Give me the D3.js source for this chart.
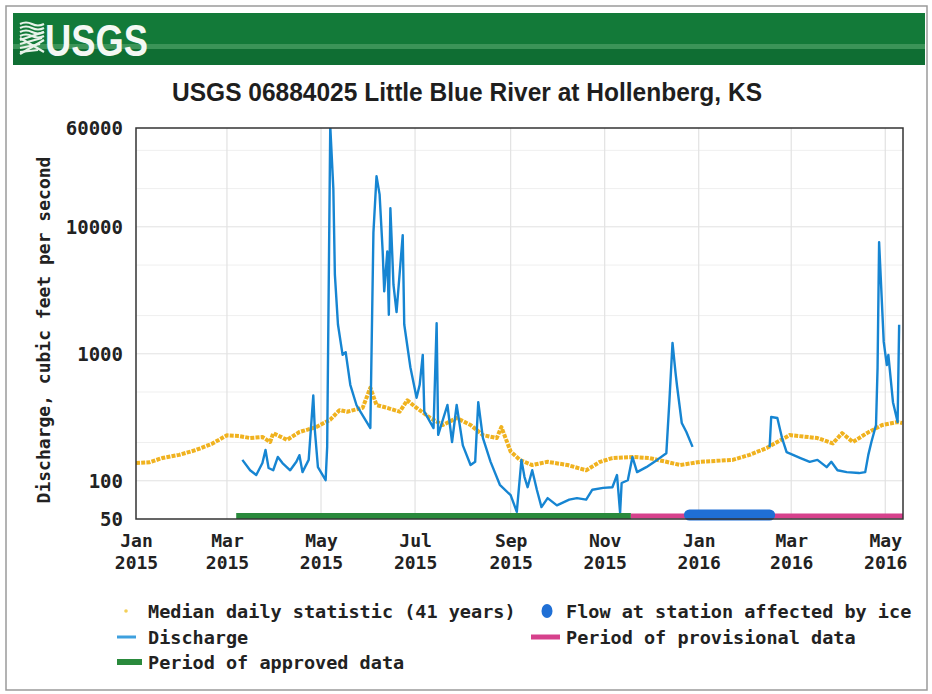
<!DOCTYPE html>
<html><head><meta charset="utf-8">
<script src="https://cdn.jsdelivr.net/npm/d3@7"></script>
<style>
html,body{margin:0;padding:0;background:#fff;}
svg{display:block;}
.mono{font-family:"DejaVu Sans Mono","Liberation Mono",monospace;font-weight:bold;fill:#222;}
</style></head>
<body>
<svg id="chart" width="932" height="694"></svg>
<script>
// ---------------- DATA ----------------
const titleText = "USGS 06884025 Little Blue River at Hollenberg, KS";
const yAxisLabel = "Discharge, cubic feet per second";

const yTickValues = [50, 100, 1000, 10000, 60000];
const xTickDates  = ["2015-01-01","2015-03-01","2015-05-01","2015-07-01","2015-09-01","2015-11-01","2016-01-01","2016-03-01","2016-05-01"];
const xTickMonths = ["Jan","Mar","May","Jul","Sep","Nov","Jan","Mar","May"];
const xTickYears  = ["2015","2015","2015","2015","2015","2015","2016","2016","2016"];
const xDomain = ["2015-01-01","2016-05-12"];

// Discharge (cfs), daily values (gap = ice affected)
const dischargeDates = [
 "2015-03-11","2015-03-16","2015-03-20","2015-03-24","2015-03-26","2015-03-28","2015-03-31","2015-04-03","2015-04-06","2015-04-11",
 "2015-04-15","2015-04-17","2015-04-19","2015-04-23","2015-04-26","2015-04-27","2015-04-29","2015-05-04","2015-05-05","2015-05-07",
 "2015-05-09","2015-05-10","2015-05-12","2015-05-15","2015-05-17","2015-05-20","2015-05-24","2015-06-02","2015-06-04","2015-06-06",
 "2015-06-08","2015-06-10","2015-06-11","2015-06-13","2015-06-14","2015-06-15","2015-06-17","2015-06-19","2015-06-23","2015-06-24",
 "2015-06-28","2015-07-02","2015-07-04","2015-07-06","2015-07-07","2015-07-13","2015-07-15","2015-07-16","2015-07-22","2015-07-25",
 "2015-07-28","2015-08-01","2015-08-06","2015-08-09","2015-08-11","2015-08-14","2015-08-19","2015-08-25","2015-09-01","2015-09-05",
 "2015-09-08","2015-09-10","2015-09-12","2015-09-15","2015-09-18","2015-09-21","2015-09-25","2015-10-01","2015-10-09","2015-10-14",
 "2015-10-20","2015-10-24","2015-10-31","2015-11-06","2015-11-09","2015-11-11","2015-11-12","2015-11-16","2015-11-19","2015-11-22",
 "2015-11-28","2015-12-05","2015-12-11","2015-12-13","2015-12-15","2015-12-17","2015-12-18","2015-12-21","2015-12-24","2015-12-28",
 "2016-02-16","2016-02-17","2016-02-21","2016-02-24","2016-02-27","2016-03-07","2016-03-13","2016-03-18","2016-03-24","2016-03-27",
 "2016-03-31","2016-04-06","2016-04-14","2016-04-18","2016-04-20","2016-04-22","2016-04-25","2016-04-26","2016-04-27","2016-04-30",
 "2016-05-02","2016-05-03","2016-05-06","2016-05-09","2016-05-10"];
const dischargeValues = [
 146,121,111,138,175,126,121,154,138,121,
 141,159,117,146,470,251,128,101,185,62000,
 20000,4200,1700,980,1030,570,395,260,9000,25000,
 18000,6400,3100,6400,2030,14000,3500,2130,8600,1700,
 780,450,570,980,350,260,1740,230,395,202,
 395,190,133,141,416,218,141,93,77,57,
 146,107,89,121,85,62,73,64,71,73,
 71,85,88,89,111,56,96,101,154,117,
 128,146,165,430,1220,700,550,285,242,185,
 184,318,312,218,168,151,141,146,128,141,
 121,117,115,117,160,202,275,775,7580,1240,
 815,980,416,290,1690];

// Median daily statistic (41 years)
const medianDates = [
 "2015-01-01","2015-01-10","2015-01-18","2015-01-29","2015-02-09","2015-02-19","2015-03-01","2015-03-09","2015-03-16","2015-03-24",
 "2015-03-29","2015-03-31","2015-04-09","2015-04-17","2015-04-28","2015-05-07","2015-05-13","2015-05-18","2015-05-28","2015-06-02",
 "2015-06-06","2015-06-13","2015-06-21","2015-06-26","2015-07-02","2015-07-11","2015-07-19","2015-07-28","2015-08-06","2015-08-14",
 "2015-08-23","2015-08-26","2015-09-01","2015-09-07","2015-09-15","2015-09-25","2015-10-08","2015-10-20","2015-10-29","2015-11-06",
 "2015-11-19","2015-11-30","2015-12-11","2015-12-20","2016-01-02","2016-01-23","2016-02-03","2016-02-14","2016-02-29","2016-03-18",
 "2016-03-28","2016-04-03","2016-04-10","2016-04-19","2016-04-29","2016-05-09","2016-05-12"];
const medianValues = [
 138,140,151,160,175,195,228,225,217,221,
 202,237,210,242,265,303,360,350,375,540,
 395,375,350,430,375,312,275,312,275,229,
 217,265,170,146,133,141,133,121,141,151,
 154,151,141,133,141,146,160,181,229,217,
 197,237,202,237,275,290,285];

const approvedPeriod    = ["2015-03-07","2015-11-18"];
const provisionalPeriod = ["2015-11-18","2016-05-12"];
const icePeriod         = ["2015-12-26","2016-02-16"];

const legendLabels = ["Median daily statistic (41 years)","Flow at station affected by ice","Discharge","Period of provisional data","Period of approved data"];

// ---------------- DRAW ----------------
const parse = d3.timeParse("%Y-%m-%d");
const svg = d3.select("#chart");
const C = {green:"#137a39", blue:"#1685d2", median:"#f0b21f", approved:"#2a8a3c", prov:"#d6418c", ice:"#1f6fd5"};
const L = 136, R = 903, T = 128, B = 519;

// outer frame
svg.append("rect").attr("x",6).attr("y",6).attr("width",921).attr("height",684)
  .attr("fill","#fff").attr("stroke","#9a9a9a").attr("stroke-width",1.5);

// header bar
svg.append("rect").attr("x",13).attr("y",13).attr("width",912).attr("height",52).attr("fill",C.green);
svg.append("rect").attr("x",13).attr("y",44).attr("width",912).attr("height",5).attr("fill","#4a9e63").attr("opacity",0.75);
svg.append("rect").attr("x",13).attr("y",49).attr("width",912).attr("height",16).attr("fill","#0f6e33");
// logo mark
const logo = svg.append("g").attr("fill","none").attr("stroke","#e8f3ea").attr("stroke-width",2.2);
[24,28,32,36].forEach(yy=>{
  logo.append("path").attr("d",`M20,${yy} q6,-3 12,0 t12,0`);
});
[40,44,48,52].forEach((yy,i)=>{
  logo.append("path").attr("d",`M20,${yy} L${44-i*2},${yy-8+i*2}`);
});
logo.append("path").attr("d","M20,38 L44,52 M20,54 L44,40");
svg.append("text").attr("x",45).attr("y",56).attr("textLength",103).attr("lengthAdjust","spacingAndGlyphs")
  .attr("font-family","'Liberation Sans Narrow','Liberation Sans',Arial,sans-serif").attr("font-weight","bold")
  .attr("font-size",44).attr("fill","#f4f8f4").text("USGS");

// title
svg.append("text").attr("x",467).attr("y",101).attr("text-anchor","middle")
  .attr("textLength",590).attr("lengthAdjust","spacingAndGlyphs")
  .attr("font-family","'Liberation Sans Narrow','Liberation Sans',Arial,sans-serif").attr("font-weight","bold")
  .attr("font-size",25).attr("fill","#1e1e1e").text(titleText);

// scales
const x = d3.scaleTime().domain([parse(xDomain[0]), d3.timeHour.offset(parse(xDomain[1]),12)]).range([L,R]);
const y = d3.scaleLog().domain([50,60000]).range([B,T]);

// grid
const grid = svg.append("g");
const gridVals = [100,200,500,1000,2000,5000,10000,20000,40000];
grid.selectAll("line.h").data(gridVals).join("line")
  .attr("x1",L).attr("x2",R).attr("y1",d=>y(d)).attr("y2",d=>y(d))
  .attr("stroke",d=>[100,1000,10000].includes(d)?"#e2e2e2":"#efefef").attr("stroke-width",1);
grid.selectAll("line.v").data(xTickDates.slice(1)).join("line")
  .attr("x1",d=>x(parse(d))).attr("x2",d=>x(parse(d))).attr("y1",T).attr("y2",B)
  .attr("stroke","#e2e2e2").attr("stroke-width",1.2);

// clip
svg.append("clipPath").attr("id","clip").append("rect").attr("x",L).attr("y",T).attr("width",R-L).attr("height",B-T);
const plot = svg.append("g").attr("clip-path","url(#clip)");

// median
const medData = medianDates.map((d,i)=>({date:parse(d), v:medianValues[i]}));
plot.append("path").datum(medData)
  .attr("d", d3.line().x(d=>x(d.date)).y(d=>y(d.v)))
  .attr("fill","none").attr("stroke",C.median).attr("stroke-width",4)
  .attr("stroke-dasharray","4 1.2").attr("stroke-linejoin","round");

// discharge
const disData = dischargeDates.map((d,i)=>({date:parse(d), v:dischargeValues[i]}));
// segments split at the ice gap (gap > 30 days)
const segs = [[]];
disData.forEach((d,i)=>{
  if (i>0 && (d.date - disData[i-1].date) > 30*864e5) segs.push([]);
  segs[segs.length-1].push(d);
});
plot.selectAll("path.dis").data(segs).join("path").attr("class","dis")
  .attr("d", d3.line().x(d=>x(d.date)).y(d=>y(d.v)))
  .attr("fill","none").attr("stroke",C.blue).attr("stroke-width",2.4).attr("stroke-linejoin","round");

// period bars
svg.append("line").attr("x1",x(parse(approvedPeriod[0]))).attr("x2",x(parse(approvedPeriod[1])))
  .attr("y1",516).attr("y2",516).attr("stroke",C.approved).attr("stroke-width",6);
svg.append("line").attr("x1",x(parse(provisionalPeriod[0]))).attr("x2",x(d3.timeHour.offset(parse(provisionalPeriod[1]),12)))
  .attr("y1",516).attr("y2",516).attr("stroke",C.prov).attr("stroke-width",5);
svg.append("line").attr("x1",x(parse(icePeriod[0]))).attr("x2",x(parse(icePeriod[1])))
  .attr("y1",515).attr("y2",515).attr("stroke",C.ice).attr("stroke-width",11).attr("stroke-linecap","round");

// frame
svg.append("rect").attr("x",L).attr("y",T).attr("width",R-L).attr("height",B-T)
  .attr("fill","none").attr("stroke","#333").attr("stroke-width",1.5);

// y axis
const ya = svg.append("g").attr("transform",`translate(${L},0)`)
  .call(d3.axisLeft(y).tickValues(yTickValues).tickSize(0).tickPadding(13).tickFormat(d3.format("d")));
ya.select(".domain").remove();
ya.selectAll("text").attr("class","mono").attr("font-size",19).attr("dy","0.35em");

// x axis
const xa = svg.append("g").attr("transform",`translate(0,${B})`)
  .call(d3.axisBottom(x).tickValues(xTickDates.map(parse)).tickSize(0).tickFormat(""));
xa.select(".domain").remove();
xa.selectAll(".tick text").each(function(d,i){
  const t = d3.select(this).attr("class","mono").attr("font-size",18).attr("y",0).attr("dy",null);
  t.append("tspan").attr("x",0).attr("y",28).text(xTickMonths[i]);
  t.append("tspan").attr("x",0).attr("y",50).text(xTickYears[i]);
});

// y label
svg.append("text").attr("class","mono").attr("font-size",18)
  .attr("transform","translate(50,330) rotate(-90)").attr("text-anchor","middle").text(yAxisLabel);

// legend
const lg = svg.append("g");
const lt = (xx,yy,s)=>lg.append("text").attr("class","mono").attr("font-size",18.5).attr("x",xx).attr("y",yy).text(s);
lg.append("circle").attr("cx",126).attr("cy",611).attr("r",1.8).attr("fill","#f3cf58");
lt(148,618,legendLabels[0]);
lg.append("ellipse").attr("cx",547).attr("cy",611).attr("rx",5.5).attr("ry",7).attr("fill",C.ice);
lt(566,618,legendLabels[1]);
lg.append("line").attr("x1",117).attr("x2",136).attr("y1",637).attr("y2",637).attr("stroke","#3ea0de").attr("stroke-width",3);
lt(148,644,legendLabels[2]);
lg.append("line").attr("x1",531).attr("x2",560).attr("y1",637).attr("y2",637).attr("stroke",C.prov).attr("stroke-width",5);
lt(566,644,legendLabels[3]);
lg.append("line").attr("x1",117).attr("x2",142).attr("y1",662).attr("y2",662).attr("stroke",C.approved).attr("stroke-width",6);
lt(148,669,legendLabels[4]);
</script>
</body></html>
